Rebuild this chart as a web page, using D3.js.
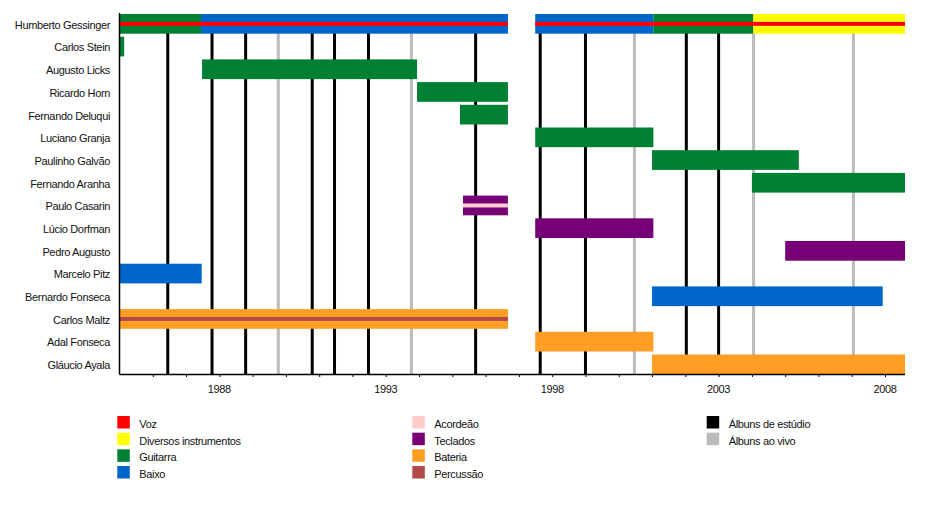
<!DOCTYPE html>
<html><head><meta charset="utf-8">
<script src="https://cdn.jsdelivr.net/npm/d3@7"></script>
<style>
body{margin:0;background:#fff;}
svg{display:block;font-family:"Liberation Sans",Arial,sans-serif;}
svg text{letter-spacing:-0.35px;}
</style></head>
<body><svg id="chart" width="929" height="508"></svg>
<script>
const members = ["Humberto Gessinger","Carlos Stein","Augusto Licks","Ricardo Horn","Fernando Deluqui","Luciano Granja","Paulinho Galvão","Fernando Aranha","Paulo Casarin","Lúcio Dorfman","Pedro Augusto","Marcelo Pitz","Bernardo Fonseca","Carlos Maltz","Adal Fonseca","Gláucio Ayala"];

const roles = ["Voz","Diversos instrumentos","Guitarra","Baixo","Acordeão","Teclados","Bateria","Percussão"];
const roleColors = ["#ff0000","#ffff00","#008033","#0066cc","#ffcccc","#770077","#ff9e24","#b24a4a"];

// [member, role, start, end] - full bars
const bars = [
  ["Humberto Gessinger","Guitarra",1985.0,1987.45],
  ["Humberto Gessinger","Baixo",1987.45,1996.67],
  ["Humberto Gessinger","Baixo",1997.49,2001.04],
  ["Humberto Gessinger","Guitarra",2001.04,2004.04],
  ["Humberto Gessinger","Diversos instrumentos",2004.04,2008.6],
  ["Carlos Stein","Guitarra",1985.0,1985.14],
  ["Augusto Licks","Guitarra",1987.48,1993.94],
  ["Ricardo Horn","Guitarra",1993.94,1996.67],
  ["Fernando Deluqui","Guitarra",1995.23,1996.67],
  ["Luciano Granja","Guitarra",1997.49,2001.04],
  ["Paulinho Galvão","Guitarra",2001.0,2005.41],
  ["Fernando Aranha","Guitarra",2004.0,2008.6],
  ["Paulo Casarin","Teclados",1995.32,1996.67],
  ["Lúcio Dorfman","Teclados",1997.49,2001.04],
  ["Pedro Augusto","Teclados",2005.0,2008.6],
  ["Marcelo Pitz","Baixo",1985.0,1987.47],
  ["Bernardo Fonseca","Baixo",2001.0,2007.93],
  ["Carlos Maltz","Bateria",1985.0,1996.67],
  ["Adal Fonseca","Bateria",1997.49,2001.04],
  ["Gláucio Ayala","Bateria",2001.0,2008.6]
];
// [member, role, start, end] - thin stripes
const stripes = [
  ["Humberto Gessinger","Voz",1985.0,1996.67],
  ["Humberto Gessinger","Voz",1997.49,2008.6],
  ["Paulo Casarin","Acordeão",1995.32,1996.67],
  ["Carlos Maltz","Percussão",1985.0,1996.67]
];

const studioAlbums = [1986.45,1987.78,1988.79,1990.79,1991.46,1992.48,1995.70,1997.64,1999.0,2002.03,2003.0];
const liveAlbums = [1989.77,1993.77,2000.47,2004.05,2007.05];

const tickYears = [1988,1993,1998,2003,2008];
const minorYears = d3.range(1986,2009);

const albumLegend = ["Álbuns de estúdio","Álbuns ao vivo"];
const albumColors = ["#000000","#bbbbbb"];

const svg = d3.select("#chart");
const color = d3.scaleOrdinal().domain(roles).range(roleColors);
const x = d3.scaleLinear().domain([1985,2008.6]).range([119.5,905]);
const y = d3.scaleBand().domain(members).range([14,374.2]).paddingInner(0.132).paddingOuter(0);
const bw = y.bandwidth();
const plotTop = 14, plotBottom = 374;

// album lines
svg.append("g").selectAll("line").data(liveAlbums).join("line")
  .attr("x1",d=>x(d)).attr("x2",d=>x(d)).attr("y1",plotTop).attr("y2",plotBottom)
  .attr("stroke",albumColors[1]).attr("stroke-width",3);
svg.append("g").selectAll("line").data(studioAlbums).join("line")
  .attr("x1",d=>x(d)).attr("x2",d=>x(d)).attr("y1",plotTop).attr("y2",plotBottom)
  .attr("stroke",albumColors[0]).attr("stroke-width",3);

// bars
svg.append("g").selectAll("rect").data(bars).join("rect")
  .attr("x",d=>x(d[2])).attr("width",d=>x(d[3])-x(d[2]))
  .attr("y",d=>y(d[0])).attr("height",bw)
  .attr("fill",d=>color(d[1]));
const sh = 4;
svg.append("g").selectAll("rect").data(stripes).join("rect")
  .attr("x",d=>x(d[2])).attr("width",d=>x(d[3])-x(d[2]))
  .attr("y",d=>y(d[0])+bw/2-sh/2).attr("height",sh)
  .attr("fill",d=>color(d[1]));

// y labels
svg.append("g").selectAll("text").data(members).join("text")
  .attr("x",110).attr("y",d=>y(d)+bw/2+1).attr("dy","0.35em")
  .attr("text-anchor","end").attr("font-size",11).attr("fill","#111")
  .text(d=>d);

// left axis line
svg.append("line").attr("x1",119.5).attr("x2",119.5).attr("y1",13).attr("y2",plotBottom+0.5)
  .attr("stroke","#000").attr("stroke-width",1.5);

// x axis
const xAxis = svg.append("g").attr("transform",`translate(0,${plotBottom})`);
xAxis.call(d3.axisBottom(x).tickValues(minorYears).tickSize(3).tickFormat(""));
xAxis.select(".domain").attr("d",`M119.5,0.5H905`).attr("stroke-width",1.5);
xAxis.selectAll(".tick line").attr("stroke-width",1);
const lab = svg.append("g").attr("transform",`translate(0,${plotBottom})`);
lab.selectAll("text").data(tickYears).join("text")
  .attr("x",d=>x(d)).attr("y",19).attr("text-anchor","middle")
  .attr("font-size",11).attr("fill","#111").text(d=>d);

// legend
const legStep = 16.67;
const cols = [[117.3,0,4],[412.3,4,8]];
cols.forEach(([lx,a,b])=>{
  const g = svg.append("g");
  const items = roles.slice(a,b);
  g.selectAll("rect").data(items).join("rect")
    .attr("x",lx).attr("y",(d,i)=>416+i*legStep).attr("width",12.5).attr("height",12.5)
    .attr("fill",d=>color(d));
  g.selectAll("text").data(items).join("text")
    .attr("x",lx+22).attr("y",(d,i)=>416+i*legStep+8).attr("dy","0.35em")
    .attr("font-size",11).attr("fill","#111").text(d=>d);
});
const ga = svg.append("g");
ga.selectAll("rect").data(albumLegend).join("rect")
  .attr("x",706.7).attr("y",(d,i)=>416+i*legStep).attr("width",12.5).attr("height",12.5)
  .attr("fill",(d,i)=>albumColors[i]);
ga.selectAll("text").data(albumLegend).join("text")
  .attr("x",728.7).attr("y",(d,i)=>416+i*legStep+8).attr("dy","0.35em")
  .attr("font-size",11).attr("fill","#111").text(d=>d);
</script>
</body></html>
